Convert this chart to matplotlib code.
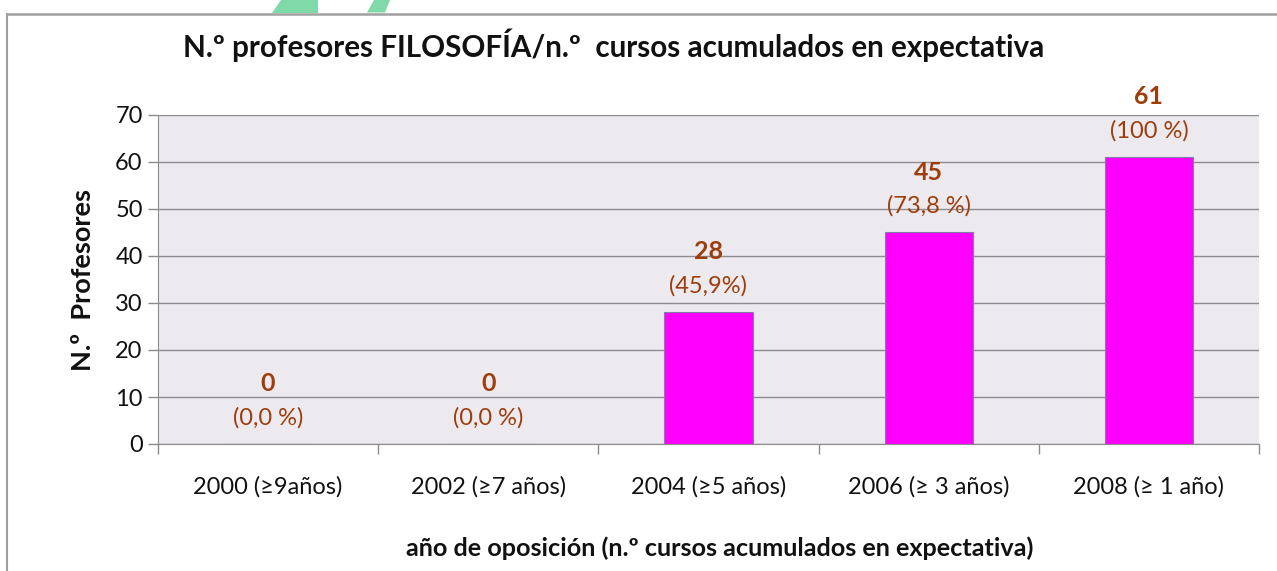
import matplotlib
matplotlib.use("Agg")
import matplotlib.pyplot as plt
from matplotlib.patches import Polygon
from matplotlib.lines import Line2D

categories = ["2000 (≥9años)", "2002 (≥7 años)", "2004 (≥5 años)", "2006 (≥ 3 años)", "2008 (≥ 1 año)"]
values = [0, 0, 28, 45, 61]
pct_labels = ["(0,0 %)", "(0,0 %)", "(45,9%)", "(73,8 %)", "(100 %)"]
yticks = [0, 10, 20, 30, 40, 50, 60, 70]

title = "N.º profesores FILOSOFÍA/n.º  cursos acumulados en expectativa"
ylabel = "N.º  Profesores"
xlabel = "año de oposición (n.º cursos acumulados en expectativa)"

FONT = ["Lato", "DejaVu Sans"]
plt.rcParams["font.family"] = FONT
LABEL_COLOR = "#9E3D0C"

W, H = 1277, 571
fig = plt.figure(figsize=(W / 100, H / 100), dpi=100)
fig.patch.set_facecolor("white")

ax = fig.add_axes([158 / W, 1 - 444 / H, (1259 - 158) / W, (444 - 115) / H])
ax.set_facecolor("#ECEAEF")

x = list(range(len(categories)))
ax.bar(x, values, width=0.4, color="#FF00FF", edgecolor="#7F7FA8", linewidth=0.8, zorder=3)

ax.set_xlim(-0.5, len(categories) - 0.5)
ax.set_ylim(0, 70)
ax.set_yticks(yticks)
ax.set_yticklabels([str(t) for t in yticks], fontsize=17, color="#111111")
ax.yaxis.grid(True, color="#8C8C8C", linewidth=1.0, zorder=0)
ax.set_axisbelow(True)

ax.set_xticks(x)
ax.set_xticklabels(categories, fontsize=17, color="#111111")
ax.tick_params(axis="x", length=0, pad=23)
ax.set_xticks([i - 0.5 for i in range(len(categories) + 1)], minor=True)
ax.tick_params(axis="x", which="minor", length=7, color="#8C8C8C", width=1.0)
ax.tick_params(axis="y", length=7, color="#8C8C8C", width=1.0, pad=4)

for s in ["top", "right"]:
    ax.spines[s].set_visible(False)
ax.spines["left"].set_color("#8C8C8C")
ax.spines["bottom"].set_color("#8C8C8C")

for xi, v, p in zip(x, values, pct_labels):
    ax.annotate(str(v), (xi, v), xytext=(0, 43.5), textcoords="offset points",
                ha="center", va="center", fontsize=18, fontweight="bold", color=LABEL_COLOR)
    ax.annotate(p, (xi, v), xytext=(0, 19), textcoords="offset points",
                ha="center", va="center", fontsize=17, color=LABEL_COLOR)

fig.text(614 / W, 1 - 45 / H, title, ha="center", va="center",
         fontsize=21.3, fontweight="bold", color="#111111")
fig.text(83 / W, 1 - 280 / H, ylabel, ha="center", va="center", rotation=90,
         fontsize=19.5, fontweight="bold", color="#111111")
fig.text(720 / W, 1 - 548 / H, xlabel, ha="center", va="center",
         fontsize=18.2, fontweight="bold", color="#111111")

# chart frame (top and left borders)
fig.add_artist(Line2D([7 / W, 1.0], [1 - 13.5 / H, 1 - 13.5 / H], color="#A0A0A0", linewidth=1.8))
fig.add_artist(Line2D([7 / W, 7 / W], [0, 1 - 13.5 / H], color="#A0A0A0", linewidth=1.5))

# decorative green shapes above the frame
def figpoly(pts, color):
    fig.add_artist(Polygon([(px / W, 1 - py / H) for px, py in pts], closed=True,
                           facecolor=color, edgecolor="none"))

figpoly([(281, 0), (318, 0), (318, 12.5), (272, 12.5)], "#80D9A8")
figpoly([(374, 0), (390, 0), (385, 12.5), (367, 12.5)], "#80D9A8")

fig.savefig("out.png", dpi=100)
